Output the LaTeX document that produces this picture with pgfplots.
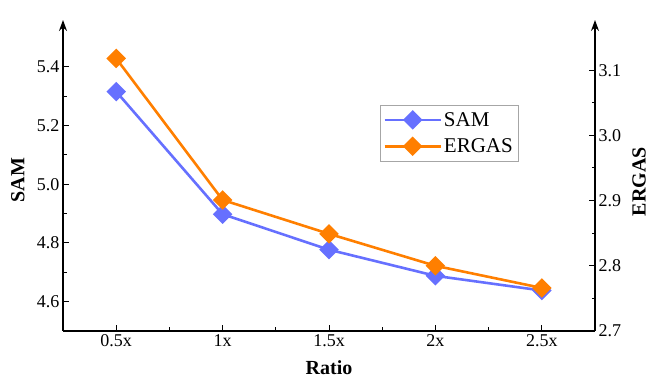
\documentclass[border=0pt]{standalone}
\usepackage{pgfplots}
\pgfplotsset{compat=1.18}
\usepackage{fontspec}
\setmainfont{Liberation Serif}
\usetikzlibrary{arrows.meta}
\definecolor{samblue}{RGB}{102,112,255}
\definecolor{ergorange}{RGB}{255,127,0}
\newcommand{\tf}{\rmfamily\fontsize{18}{18}\selectfont}
\begin{document}
\begin{tikzpicture}
\pgfplotsset{
 common/.style={
  scale only axis, width=532pt, height=311pt, xmin=-0.5, xmax=4.5,
  xtick={0,1,2,3,4},
  xticklabels={{\tf 0.5x},{\tf 1x},{\tf 1.5x},{\tf 2x},{\tf 2.5x}},
  tick align=inside, major tick length=6pt, minor tick length=3.5pt,
  tick style={black, line width=1pt},
  label style={font=\fontsize{20}{20}\selectfont\bfseries},
  axis line style={line width=1.2pt},
  x axis line style={-},
  y axis line style={-{Stealth[length=11pt,width=8pt]}},
 },
 samstyle/.style={color=samblue, line width=2.6pt, mark=square*, mark size=5.6pt, mark options={rotate=45, solid, fill=samblue}},
 ergstyle/.style={color=ergorange, line width=2.6pt, mark=square*, mark size=5.6pt, mark options={rotate=45, solid, fill=ergorange}},
}
\begin{axis}[common, axis x line*=bottom, axis y line*=left,
  ymin=4.5, ymax=5.56, ytick={4.6,4.8,5.0,5.2,5.4},
  yticklabels={{\tf 4.6},{\tf 4.8},{\tf 5.0},{\tf 5.2},{\tf 5.4}},
  minor y tick num=1, minor x tick num=1,
  ylabel={SAM}, xlabel={Ratio},
  ylabel style={at={(axis description cs:-0.085,0.485)}, anchor=center},
  xlabel style={at={(axis description cs:0.5,-0.118)}, anchor=center},
]
\addplot[samstyle] coordinates {(0,5.316) (1,4.898) (2,4.777) (3,4.688) (4,4.638)};
\end{axis}
\begin{axis}[common, axis x line=none, axis y line*=right,
  ymin=2.7, ymax=3.177, ytick={2.7,2.8,2.9,3.0,3.1},
  yticklabels={{\tf 2.7},{\tf 2.8},{\tf 2.9},{\tf 3.0},{\tf 3.1}},
  minor y tick num=1,
  ylabel={ERGAS},
  ylabel style={at={(axis description cs:1.083,0.48)}, anchor=center, rotate=0},
  legend style={at={(axis description cs:0.596,0.727)}, anchor=north west,
    draw=gray!70, line width=0.6pt, font=\fontsize{21}{23}\selectfont,
    row sep=7pt, inner xsep=3pt, inner ysep=5pt},
  legend cell align=left,
  legend image code/.code={\draw[mark repeat=2,mark phase=2] plot coordinates {(0pt,0pt) (28pt,0pt) (56pt,0pt)};},
]
\addlegendimage{samstyle}
\addlegendentry{SAM}
\addplot[ergstyle] coordinates {(0,3.118) (1,2.901) (2,2.849) (3,2.800) (4,2.766)};
\addlegendentry{ERGAS}
\end{axis}
\pgfresetboundingbox
\path[use as bounding box] (-63pt,-48pt) rectangle (587pt,331pt);
\end{tikzpicture}
\end{document}
